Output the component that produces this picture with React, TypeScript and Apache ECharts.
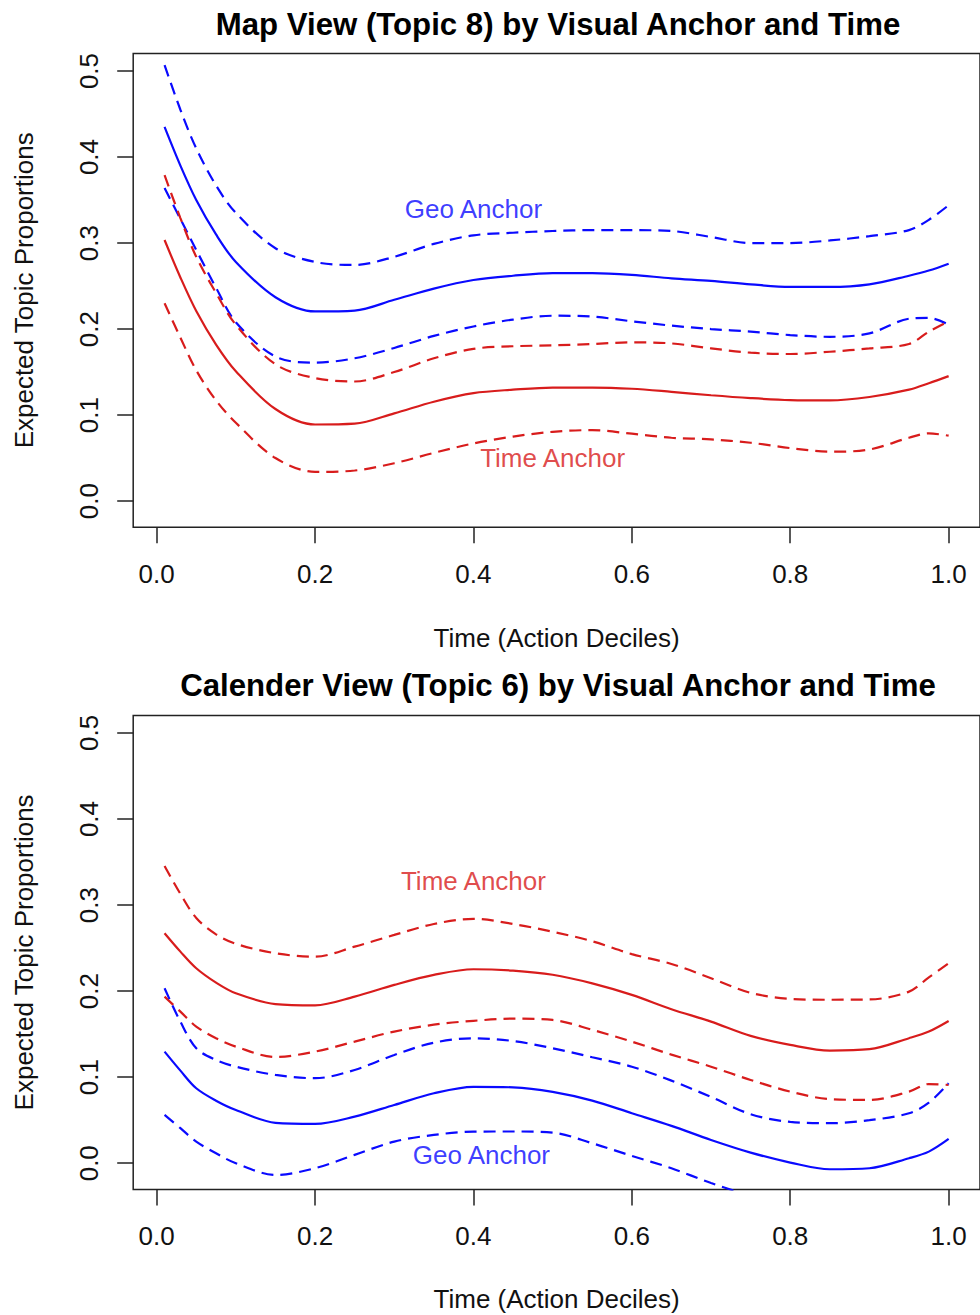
import React, { useEffect, useRef } from "react";
import * as echarts from "echarts";

// ---------- data ----------
const X = [0.01, 0.03, 0.05, 0.075, 0.1, 0.15, 0.2, 0.25, 0.3, 0.35, 0.4, 0.45, 0.5, 0.55, 0.6, 0.65, 0.7, 0.75, 0.8, 0.85, 0.9, 0.95, 0.975, 1.0];

// Panel 1: Map View (Topic 8)
const mapGeoMean = [0.435, 0.39, 0.35, 0.31, 0.278, 0.237, 0.2205, 0.2215, 0.234, 0.247, 0.257, 0.262, 0.265, 0.265, 0.263, 0.259, 0.256, 0.252, 0.249, 0.249, 0.252, 0.262, 0.268, 0.276];
const mapGeoUpper = [0.507, 0.455, 0.41, 0.367, 0.335, 0.294, 0.278, 0.2745, 0.284, 0.299, 0.309, 0.312, 0.314, 0.315, 0.315, 0.314, 0.307, 0.3, 0.3, 0.303, 0.308, 0.315, 0.327, 0.344];
const mapGeoLower = [0.364, 0.328, 0.292, 0.248, 0.208, 0.168, 0.161, 0.166, 0.178, 0.192, 0.203, 0.211, 0.2155, 0.2145, 0.209, 0.204, 0.2, 0.197, 0.193, 0.191, 0.195, 0.212, 0.213, 0.205];
const mapTimeMean = [0.3035, 0.26, 0.221, 0.182, 0.151, 0.107, 0.089, 0.09, 0.102, 0.1155, 0.1255, 0.1295, 0.132, 0.132, 0.1306, 0.127, 0.123, 0.1197, 0.1174, 0.117, 0.121, 0.1295, 0.137, 0.1453];
const mapTimeUpper = [0.379, 0.329, 0.284, 0.242, 0.205, 0.159, 0.143, 0.139, 0.15, 0.166, 0.177, 0.18, 0.181, 0.1826, 0.1845, 0.1833, 0.1775, 0.1725, 0.171, 0.1736, 0.1775, 0.1826, 0.197, 0.209];
const mapTimeLower = [0.23, 0.19, 0.152, 0.117, 0.091, 0.05, 0.034, 0.0355, 0.044, 0.056, 0.067, 0.075, 0.0805, 0.0825, 0.0783, 0.0736, 0.0717, 0.0678, 0.0616, 0.0574, 0.06, 0.0736, 0.0787, 0.076];

// Panel 2: Calender View (Topic 6)
const calTimeUpper = [0.3455, 0.313, 0.285, 0.266, 0.255, 0.244, 0.24, 0.2517, 0.2653, 0.278, 0.284, 0.278, 0.269, 0.258, 0.243, 0.2316, 0.215, 0.198, 0.191, 0.19, 0.1903, 0.1994, 0.216, 0.2324];
const calTimeMean = [0.2673, 0.2459, 0.2266, 0.2099, 0.1975, 0.185, 0.1835, 0.1936, 0.2072, 0.2188, 0.2254, 0.2238, 0.219, 0.209, 0.1956, 0.179, 0.1646, 0.148, 0.1375, 0.1309, 0.1325, 0.1453, 0.153, 0.1653];
const calTimeLower = [0.1936, 0.1762, 0.1588, 0.1452, 0.1355, 0.1235, 0.1297, 0.1413, 0.153, 0.161, 0.1655, 0.168, 0.1665, 0.155, 0.1413, 0.1262, 0.1122, 0.0968, 0.0832, 0.0745, 0.0736, 0.0832, 0.092, 0.091];
const calGeoUpper = [0.2033, 0.1645, 0.1336, 0.12, 0.1122, 0.1026, 0.0988, 0.1084, 0.1258, 0.1401, 0.1452, 0.142, 0.1336, 0.1232, 0.1122, 0.096, 0.077, 0.057, 0.048, 0.0465, 0.05, 0.0581, 0.0704, 0.093];
const calGeoMean = [0.1297, 0.1076, 0.0871, 0.0727, 0.0619, 0.047, 0.0457, 0.0542, 0.0677, 0.0813, 0.0888, 0.0882, 0.083, 0.0728, 0.0581, 0.0434, 0.0271, 0.0124, 0.0008, -0.007, -0.0058, 0.0058, 0.0135, 0.0282];
const calGeoLower = [0.0561, 0.0407, 0.0251, 0.0116, 0.0, -0.0136, -0.0058, 0.0097, 0.0251, 0.0329, 0.0367, 0.0369, 0.0356, 0.0232, 0.0085, -0.0058, -0.023, -0.038];

const X_TICKS = [0, 0.2, 0.4, 0.6, 0.8, 1.0];
const Y_TICKS = [0, 0.1, 0.2, 0.3, 0.4, 0.5];
const TITLES = ["Map View (Topic 8) by Visual Anchor and Time", "Calender View (Topic 6) by Visual Anchor and Time"];
const X_NAME = "Time (Action Deciles)";
const Y_NAME = "Expected Topic Proportions";

// annotations: [panel, label, x, y, colour key]
const ANNOTATIONS: [number, string, number, number, string][] = [
  [0, "Geo Anchor", 0.4, 0.34, "geo"],
  [0, "Time Anchor", 0.5, 0.05, "time"],
  [1, "Time Anchor", 0.4, 0.328, "time"],
  [1, "Geo Anchor", 0.41, 0.009, "geo"],
];

// ---------- style ----------
const FONT = '"Liberation Sans", Arial, Helvetica, sans-serif';
const BLUE = "#0a0aff";
const RED = "#d81c1c";
const INK = "#111111";
const AXIS = "#222222";
const DASH = [12, 7];

const X_MIN = -0.0296;
const X_MAX = 1.0396;
const Y_MIN = -0.0304;
const Y_MAX = 0.5204;

function pts(arr: number[]) {
  return arr.map((v, i) => [X[i], v]);
}

export default function App() {
  const ref = useRef<HTMLDivElement>(null);

  useEffect(() => {
    if (!ref.current) return;
    const chart = echarts.init(ref.current, undefined, { renderer: "svg" });

    const panels = [
      {
        curves: [
          { d: mapGeoUpper, c: BLUE, dash: true },
          { d: mapGeoMean, c: BLUE, dash: false },
          { d: mapGeoLower, c: BLUE, dash: true },
          { d: mapTimeUpper, c: RED, dash: true },
          { d: mapTimeMean, c: RED, dash: false },
          { d: mapTimeLower, c: RED, dash: true },
        ],
        top: 53.5,
        height: 473.7,
        xNameGap: 98,
      },
      {
        curves: [
          { d: calTimeUpper, c: RED, dash: true },
          { d: calTimeMean, c: RED, dash: false },
          { d: calTimeLower, c: RED, dash: true },
          { d: calGeoUpper, c: BLUE, dash: true },
          { d: calGeoMean, c: BLUE, dash: false },
          { d: calGeoLower, c: BLUE, dash: true },
        ],
        top: 715.4,
        height: 474,
        xNameGap: 97,
      },
    ];

    const grid = panels.map((p) => ({
      left: 133.2,
      top: p.top,
      width: 850,
      height: p.height,
      show: true,
      borderColor: AXIS,
      borderWidth: 1.5,
      backgroundColor: "transparent",
      containLabel: false,
    }));

    const labelStyle = { fontSize: 26, fontFamily: FONT, color: INK };

    const xAxis = panels.map((p, i) => ({
      type: "value",
      gridIndex: i,
      min: X_MIN,
      max: X_MAX,
      axisLine: { show: false, onZero: false },
      splitLine: { show: false },
      axisTick: { show: true, inside: false, length: 16, customValues: X_TICKS, lineStyle: { color: AXIS, width: 1.5 } },
      axisLabel: { show: true, customValues: X_TICKS, formatter: (v: number) => v.toFixed(1), margin: 34, ...labelStyle },
      name: X_NAME,
      nameLocation: "middle",
      nameGap: p.xNameGap,
      nameTextStyle: labelStyle,
    }));

    const yAxis = panels.map((_p, i) => ({
      type: "value",
      gridIndex: i,
      min: Y_MIN,
      max: Y_MAX,
      axisLine: { show: false, onZero: false },
      splitLine: { show: false },
      axisTick: { show: true, inside: false, length: 16, customValues: Y_TICKS, lineStyle: { color: AXIS, width: 1.5 } },
      axisLabel: { show: true, customValues: Y_TICKS, rotate: 90, formatter: (v: number) => v.toFixed(1), margin: 31, ...labelStyle },
      name: Y_NAME,
      nameLocation: "middle",
      nameGap: 96,
      nameTextStyle: labelStyle,
    }));

    const series: any[] = [];
    panels.forEach((p, i) => {
      p.curves.forEach((c) => {
        series.push({
          type: "line",
          xAxisIndex: i,
          yAxisIndex: i,
          data: pts(c.d),
          showSymbol: false,
          symbol: "none",
          smooth: 0.33,
          clip: true,
          silent: true,
          lineStyle: { color: c.c, width: 2.2, type: c.dash ? DASH : "solid" },
        });
      });
    });

    ANNOTATIONS.forEach(([panel, text, x, y, key]) => {
      series.push({
        type: "scatter",
        xAxisIndex: panel,
        yAxisIndex: panel,
        data: [[x, y]],
        symbolSize: 1,
        silent: true,
        itemStyle: { color: "rgba(0,0,0,0)" },
        label: {
          show: true,
          position: "inside",
          formatter: text,
          fontSize: 26,
          fontFamily: FONT,
          color: key === "geo" ? BLUE : RED,
        },
      });
    });

    chart.setOption({
      animation: false,
      backgroundColor: "#ffffff",
      title: [
        {
          text: TITLES[0],
          left: 558,
          top: 8.6,
          textAlign: "center",
          padding: 0,
          textStyle: { fontSize: 31.2, fontWeight: "bold", fontFamily: FONT, color: "#000" },
        },
        {
          text: TITLES[1],
          left: 558,
          top: 669.6,
          textAlign: "center",
          padding: 0,
          textStyle: { fontSize: 31.2, fontWeight: "bold", fontFamily: FONT, color: "#000" },
        },
      ],
      grid,
      xAxis,
      yAxis,
      series,
    });

    return () => chart.dispose();
  }, []);

  return (
    <div
      ref={ref}
      style={{ position: "absolute", left: 0, top: 0, width: 980, height: 1315, background: "#fff" }}
    />
  );
}
